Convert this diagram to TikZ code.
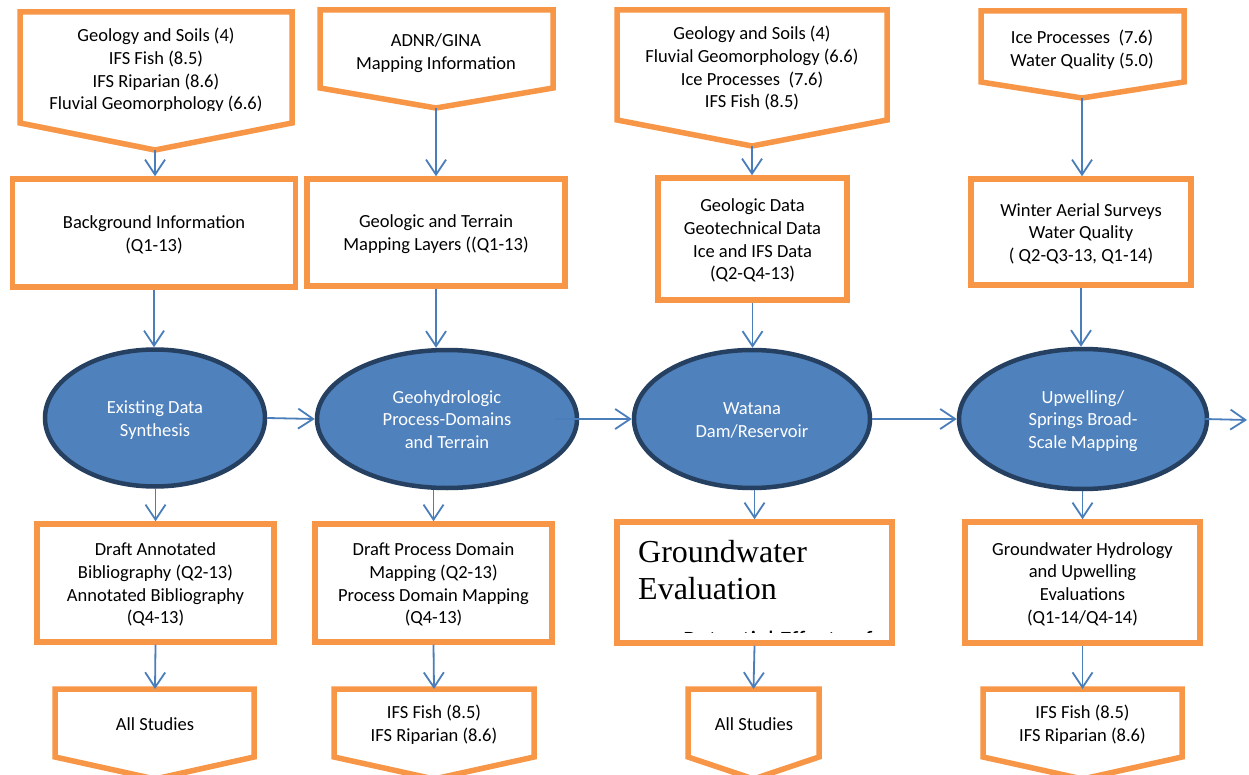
\documentclass[tikz,border=0pt]{standalone}
\usepackage{fontspec}
\setmainfont{Carlito}
\newfontfamily\tnrfont{Liberation Serif}
\usetikzlibrary{arrows.meta,shapes.geometric}
\definecolor{orng}{HTML}{F79646}
\definecolor{arblue}{HTML}{4A7EBB}
\definecolor{ellfill}{HTML}{4F81BD}
\definecolor{elldark}{HTML}{254061}
\newcommand\ftop{\rule{0pt}{18.5pt}}
\begin{document}
\begin{tikzpicture}[x=1pt,y=-1pt,
  txt/.style={font=\fontsize{18.5}{22.6}\selectfont, align=center, text=black, inner sep=0pt,
    execute at end node={\rule[-5pt]{0pt}{5pt}}},
  obox/.style={draw=orng, line width=5.5pt, fill=white, inner sep=0pt, txt},
  opent/.style={draw=orng, line width=5.5pt, fill=white, line join=miter},
  oval/.style={ellipse, draw=elldark, line width=4.5pt, fill=ellfill, inner sep=0pt, txt, text=white},
  conn/.style={draw=arblue, line width=1.8pt, -{Straight Barb[length=15pt,width=20pt]}}
]
\useasboundingbox (0,0) rectangle (1249,775);
\fill[white] (0,0) rectangle (1249,775);

% ---------- top pentagons ----------
\draw[opent] (20,12) -- (292,12) -- (292,123) -- (155,150) -- (20,123) -- cycle;
\coordinate (p1tip) at (155,150);
\begin{scope}
\clip (20,12) rectangle (292,110.5);
\node[txt] (t1) at (156,69) {\ftop Geology and Soils (4)\\IFS Fish (8.5)\\IFS Riparian (8.6)\\Fluvial Geomorphology (6.6)};
\end{scope}

\draw[opent] (320,10) -- (553,10) -- (553,88) -- (436,108) -- (320,88) -- cycle;
\coordinate (p2tip) at (436,108);
\node[txt] (t2) at (436,51) {\ftop ADNR/GINA\\Mapping Information};

\draw[opent] (617,10) -- (887,10) -- (887,120) -- (752,146) -- (617,120) -- cycle;
\coordinate (p3tip) at (752,146);
\node[txt] (t3) at (752,67) {\ftop Geology and Soils (4)\\Fluvial Geomorphology (6.6)\\Ice Processes\ \ (7.6)\\IFS Fish (8.5)};

\draw[opent] (981,11) -- (1184,11) -- (1184,82) -- (1082,98) -- (981,82) -- cycle;
\coordinate (p4tip) at (1082,98);
\node[txt] (t4) at (1082,48) {\ftop Ice Processes\ \ (7.6)\\Water Quality (5.0)};

% ---------- upper rectangles ----------
\node[obox, minimum width=283pt, minimum height=108pt] (r1) at (154,233) {\ftop Background Information\\(Q1-13)};
\node[obox, minimum width=258pt, minimum height=107pt] (r2) at (436,232.5) {\ftop Geologic and Terrain\\Mapping Layers ((Q1-13)};
\node[obox, minimum width=189pt, minimum height=122pt] (r3) at (752.5,239) {\ftop Geologic Data\\Geotechnical Data\\Ice and IFS Data\\(Q2-Q4-13)};
\node[obox, minimum width=220pt, minimum height=106pt] (r4) at (1081,232) {\ftop Winter Aerial Surveys\\Water Quality\\( Q2-Q3-13, Q1-14)};

% ---------- ellipses ----------
\node[oval, minimum width=220pt, minimum height=137pt] (e1) at (155,418) {\ftop Existing Data\\Synthesis};
\node[oval, minimum width=260pt, minimum height=138pt] (e2) at (447,419) {\ftop Geohydrologic\\Process-Domains\\and Terrain};
\node[oval, minimum width=236pt, minimum height=138pt] (e3) at (752,419) {\ftop Watana\\Dam/Reservoir};
\node[oval, minimum width=248pt, minimum height=140pt] (e4) at (1083,419) {\ftop Upwelling/\\Springs Broad-\\Scale Mapping};

% ---------- lower rectangles ----------
\node[obox, minimum width=237pt, minimum height=118pt] (r1b) at (155.5,583) {\ftop Draft Annotated\\Bibliography (Q2-13)\\Annotated Bibliography\\(Q4-13)};
\node[obox, minimum width=237pt, minimum height=118pt] (r2b) at (433.5,583) {\ftop Draft Process Domain\\Mapping (Q2-13)\\Process Domain Mapping\\(Q4-13)};
\node[obox, minimum width=275pt, minimum height=121pt] (r3b) at (754.5,582.5) {};
\node[obox, minimum width=235pt, minimum height=121pt] (r4b) at (1082.5,582.5) {\ftop Groundwater Hydrology\\and Upwelling\\Evaluations\\(Q1-14/Q4-14)};

\node[anchor=base west, inner sep=0pt, font={\tnrfont\fontsize{32}{37}\selectfont}] (gw1) at (638,562) {Groundwater};
\node[anchor=base west, inner sep=0pt, font={\tnrfont\fontsize{32}{37}\selectfont}] (gw2) at (638,599) {Evaluation};
\begin{scope}
\clip (620,524) rectangle (890,632);
\node[anchor=base west, inner sep=0pt, font=\fontsize{25}{30}\selectfont] (gw3) at (683,648) {Potential Effects of};
\end{scope}

% ---------- bottom pentagons ----------
\draw[opent] (55,689) -- (254,689) -- (254,757) -- (155,779) -- (55,757) -- cycle;
\coordinate (b1top) at (155,689);
\node[txt] (bt1) at (155,724) {\ftop All Studies};

\draw[opent] (334,689) -- (534,689) -- (534,757) -- (434,779) -- (334,757) -- cycle;
\coordinate (b2top) at (434,689);
\node[txt] (bt2) at (434,723.5) {\ftop IFS Fish (8.5)\\IFS Riparian (8.6)};

\draw[opent] (688,689) -- (819,689) -- (819,757) -- (753.5,779) -- (688,757) -- cycle;
\coordinate (b3top) at (753.5,689);
\node[txt] (bt3) at (754,724) {\ftop All Studies};

\draw[opent] (983,689) -- (1182,689) -- (1182,757) -- (1082.5,779) -- (983,757) -- cycle;
\coordinate (b4top) at (1082.5,689);
\node[txt] (bt4) at (1082.5,723.5) {\ftop IFS Fish (8.5)\\IFS Riparian (8.6)};

% ---------- connectors ----------
\draw[conn] (p1tip) -- (p1tip |- r1.north);
\draw[conn] (p2tip) -- (p2tip |- r2.north);
\draw[conn] (p3tip) -- (p3tip |- r3.north);
\draw[conn] (p4tip) -- (p4tip |- r4.north);

\draw[conn] (r1.south) -- (r1.south |- e1.north);
\draw[conn] (r2.south) -- (r2.south |- e2.north);
\draw[conn] (r3.south) -- (r3.south |- e3.north);
\draw[conn] (r4.south) -- (r4.south |- e4.north);

\draw[conn] (r1b.north |- e1.south) -- (r1b.north);
\draw[conn] (r2b.north |- e2.south) -- (r2b.north);
\draw[conn] (r3b.north |- e3.south) -- (r3b.north);
\draw[conn] (r4b.north |- e4.south) -- (r4b.north);

\draw[conn] (r1b.south) -- (b1top);
\draw[conn] (r2b.south) -- (b2top);
\draw[conn] (r3b.south) -- (b3top);
\draw[conn] (r4b.south) -- (b4top);

\draw[conn] (e1.east) -- (e2.west);
\draw[conn] ([xshift=-24pt]e2.east) -- (e3.west);
\draw[conn] (e3.east) -- (e4.west);
\coordinate (outend) at (1247,420);
\draw[conn] ([xshift=-4pt]e4.east) -- (outend);
\end{tikzpicture}
\end{document}
